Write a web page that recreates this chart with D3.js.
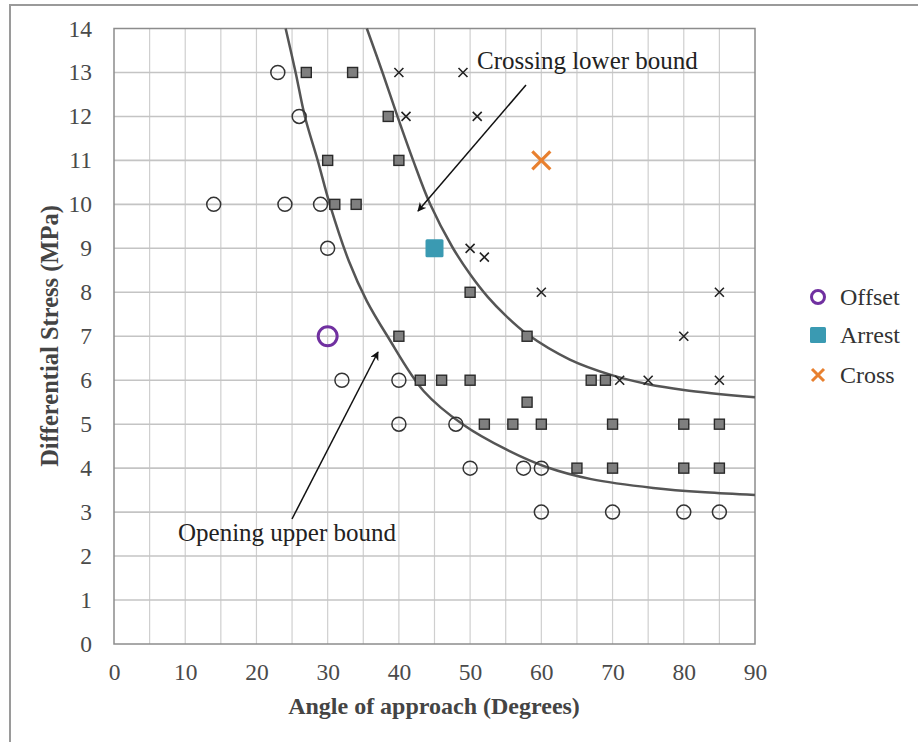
<!DOCTYPE html>
<html>
<head>
<meta charset="utf-8">
<script src="https://cdn.jsdelivr.net/npm/d3@7"></script>
<style>
  html, body { margin: 0; padding: 0; background: #fff; }
  svg { display: block; }
  text { font-family: "Liberation Serif", "Times New Roman", serif; }
</style>
</head>
<body>
<svg id="chart" width="918" height="742"></svg>
<script>
// Angle of approach (degrees) vs differential stress (MPa)
const xTicks = [0, 10, 20, 30, 40, 50, 60, 70, 80, 90];
const yTicks = [0, 1, 2, 3, 4, 5, 6, 7, 8, 9, 10, 11, 12, 13, 14];

// Opening tests (open circles)
const openingAngle  = [23, 26, 14, 24, 29, 30, 32, 40, 40, 48, 50, 57.5, 60, 60, 70, 80, 85];
const openingStress = [13, 12, 10, 10, 10, 9, 6, 6, 5, 5, 4, 4, 4, 3, 3, 3, 3];

// Arrest tests (grey squares)
const arrestAngle  = [27, 33.5, 38.5, 30, 40, 31, 34, 40, 43, 46, 50, 50, 58, 58, 52, 56, 60, 67, 69, 65, 70, 70, 80, 80, 85, 85];
const arrestStress = [13, 13, 12, 11, 11, 10, 10, 7, 6, 6, 6, 8, 7, 5.5, 5, 5, 5, 6, 6, 4, 5, 4, 5, 4, 5, 4];

// Crossing tests (small crosses)
const crossAngle  = [40, 49, 41, 51, 50, 52, 60, 85, 80, 71, 75, 85];
const crossStress = [13, 13, 12, 12, 9, 8.8, 8, 8, 7, 6, 6, 6];

// Highlighted cases
const offsetPoint = [30, 7];
const arrestPoint = [45, 9];
const crossPoint  = [60, 11];

// Bounding curves
const openBoundAngle  = [24.1, 25.5, 26.8, 28.6, 30.3, 33.0, 35.5, 38.4, 43.5, 49.1, 55, 60.8, 67, 75.7, 83, 90];
const openBoundStress = [14, 13, 12, 11, 10, 8.7, 7.8, 7.0, 5.75, 4.98, 4.43, 4.02, 3.75, 3.55, 3.45, 3.39];
const crossBoundAngle  = [35.5, 37.7, 39.8, 42.0, 44.4, 47.5, 50.0, 52.5, 55, 58, 64, 70, 75, 80, 90];
const crossBoundStress = [14, 13, 12, 11, 10, 9.03, 8.41, 7.89, 7.47, 7.05, 6.47, 6.11, 5.91, 5.78, 5.61];

const legendLabels = ["Offset", "Arrest", "Cross"];

const purple = "#7030a0", teal = "#3a9ab2", orange = "#e8802f";

const svg = d3.select("#chart");

// Figure frame
svg.append("rect").attr("x", 10).attr("y", 5).attr("width", 920).attr("height", 760)
  .attr("fill", "none").attr("stroke", "#9a9a9a").attr("stroke-width", 2);

const L = 114, R = 755, T = 28.5, B = 644;
const x = d3.scaleLinear().domain([0, 90]).range([L, R]);
const y = d3.scaleLinear().domain([0, 14]).range([B, T]);

// Grid
const grid = svg.append("g");
grid.selectAll("line.v").data(d3.range(5, 90, 5)).join("line")
  .attr("x1", d => x(d)).attr("x2", d => x(d)).attr("y1", T).attr("y2", B)
  .attr("stroke", "#cfcfcf").attr("stroke-width", 1.2);
grid.selectAll("line.h").data(yTicks.slice(1, -1)).join("line")
  .attr("x1", L).attr("x2", R).attr("y1", d => y(d)).attr("y2", d => y(d))
  .attr("stroke", "#c4c4c4").attr("stroke-width", 1.6);
svg.append("rect").attr("x", L).attr("y", T).attr("width", R - L).attr("height", B - T)
  .attr("fill", "none").attr("stroke", "#8c8c8c").attr("stroke-width", 1.5);

// Axes (labels only)
const xAxis = svg.append("g").attr("transform", `translate(0,${B})`)
  .call(d3.axisBottom(x).tickValues(xTicks).tickSize(0).tickPadding(19));
const yAxis = svg.append("g").attr("transform", `translate(${L},0)`)
  .call(d3.axisLeft(y).tickValues(yTicks).tickSize(0).tickPadding(22));
[xAxis, yAxis].forEach(g => {
  g.select(".domain").remove();
  g.selectAll("text").attr("font-family", "Liberation Serif, serif")
    .attr("font-size", 23.5).attr("fill", "#4a4a4a");
});

// Curves
const line = d3.line().x(d => x(d[0])).y(d => y(d[1])).curve(d3.curveCatmullRom.alpha(0.5));
svg.append("path").datum(d3.zip(openBoundAngle, openBoundStress)).attr("d", line)
  .attr("fill", "none").attr("stroke", "#555").attr("stroke-width", 2.5);
svg.append("path").datum(d3.zip(crossBoundAngle, crossBoundStress)).attr("d", line)
  .attr("fill", "none").attr("stroke", "#555").attr("stroke-width", 2.5);

// Open circles
svg.append("g").selectAll("circle").data(d3.zip(openingAngle, openingStress)).join("circle")
  .attr("cx", d => x(d[0])).attr("cy", d => y(d[1])).attr("r", 7)
  .attr("fill", "none").attr("stroke", "#333").attr("stroke-width", 1.5);

// Grey squares
svg.append("g").selectAll("rect").data(d3.zip(arrestAngle, arrestStress)).join("rect")
  .attr("x", d => x(d[0]) - 5).attr("y", d => y(d[1]) - 5).attr("width", 10).attr("height", 10)
  .attr("fill", "#7f7f7f").attr("stroke", "#2a2a2a").attr("stroke-width", 1.4);

// Small crosses
function cross(g, cx, cy, h, color, w) {
  g.append("path").attr("d", `M${cx - h},${cy - h}L${cx + h},${cy + h}M${cx - h},${cy + h}L${cx + h},${cy - h}`)
    .attr("stroke", color).attr("stroke-width", w).attr("fill", "none");
}
const cg = svg.append("g");
d3.zip(crossAngle, crossStress).forEach(d => cross(cg, x(d[0]), y(d[1]), 4.5, "#222", 1.6));

// Highlighted points
svg.append("circle").attr("cx", x(offsetPoint[0])).attr("cy", y(offsetPoint[1])).attr("r", 9.5)
  .attr("fill", "none").attr("stroke", purple).attr("stroke-width", 3);
svg.append("rect").attr("x", x(arrestPoint[0]) - 9).attr("y", y(arrestPoint[1]) - 9)
  .attr("width", 18).attr("height", 18).attr("rx", 1.5).attr("fill", teal);
cross(svg, x(crossPoint[0]), y(crossPoint[1]), 9, orange, 3.2);

// Annotations
const defs = svg.append("defs");
defs.append("marker").attr("id", "arrow").attr("viewBox", "0 0 10 10")
  .attr("refX", 9).attr("refY", 5).attr("markerWidth", 9).attr("markerHeight", 9)
  .attr("orient", "auto-start-reverse").attr("markerUnits", "userSpaceOnUse")
  .append("path").attr("d", "M0,0L10,5L0,10L3,5Z").attr("fill", "#111");
svg.append("line").attr("x1", 526).attr("y1", 85).attr("x2", 418).attr("y2", 211)
  .attr("stroke", "#111").attr("stroke-width", 1.5).attr("marker-end", "url(#arrow)");
svg.append("line").attr("x1", 292).attr("y1", 519).attr("x2", 378).attr("y2", 352)
  .attr("stroke", "#111").attr("stroke-width", 1.5).attr("marker-end", "url(#arrow)");
svg.append("text").attr("x", 477).attr("y", 69).attr("font-size", 25).attr("fill", "#222")
  .text("Crossing lower bound");
svg.append("text").attr("x", 178).attr("y", 541).attr("font-size", 25).attr("fill", "#222")
  .text("Opening upper bound");

// Axis titles
svg.append("text").attr("x", 434).attr("y", 714).attr("text-anchor", "middle")
  .attr("font-size", 24).attr("font-weight", "bold").attr("fill", "#444")
  .text("Angle of approach (Degrees)");
svg.append("text").attr("transform", "translate(58,336) rotate(-90)").attr("text-anchor", "middle")
  .attr("font-size", 24.5).attr("font-weight", "bold").attr("fill", "#444")
  .text("Differential Stress (MPa)");

// Legend
const lg = svg.append("g");
const ly = [297, 335, 375];
lg.append("circle").attr("cx", 818).attr("cy", ly[0]).attr("r", 6.5)
  .attr("fill", "none").attr("stroke", purple).attr("stroke-width", 3);
lg.append("rect").attr("x", 810).attr("y", ly[1] - 8).attr("width", 16).attr("height", 16)
  .attr("rx", 1.5).attr("fill", teal);
cross(lg, 818, ly[2], 6, orange, 3);
lg.selectAll("text").data(legendLabels).join("text")
  .attr("x", 840).attr("y", (d, i) => ly[i] + 8).attr("font-size", 24).attr("fill", "#333")
  .text(d => d);
</script>
</body>
</html>
